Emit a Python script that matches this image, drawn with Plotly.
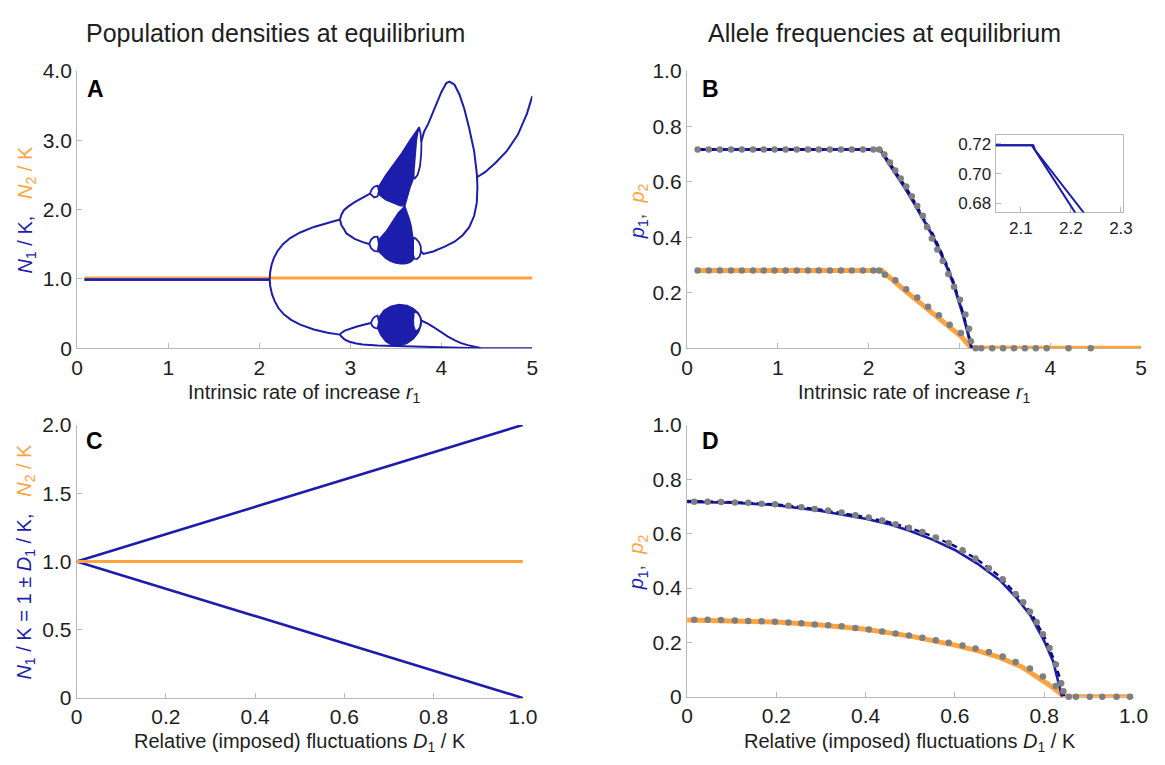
import plotly.graph_objects as go

FONT = "Liberation Sans, Arial, Helvetica, sans-serif"
BLUE = "#1d1dab"
BLUE_D = "#0b0b78"
ORANGE = "#ffa340"
GRAY = "#7f7f7f"
AXC = "#b9b9b9"
TXT = "#1e1e1e"
W, H = 1165, 765

# ---------------- Panel A : N1/K, N2/K vs r1 ----------------
a_eq_r = [0.08, 2.115]
a_eq_n1 = [0.99, 0.99]
a_n2_r = [0.08, 5.0]
a_n2 = [1.013, 1.013]

a_p2hi_r = [2.115, 2.12, 2.135, 2.16, 2.20, 2.26, 2.34, 2.45, 2.60, 2.75, 2.886]
a_p2hi_n = [1.00, 1.10, 1.20, 1.30, 1.40, 1.50, 1.59, 1.67, 1.75, 1.81, 1.857]
a_p2lo_r = [2.115, 2.12, 2.14, 2.17, 2.21, 2.27, 2.35, 2.45, 2.60, 2.75, 2.886]
a_p2lo_n = [1.00, 0.90, 0.78, 0.68, 0.58, 0.49, 0.41, 0.34, 0.27, 0.225, 0.197]

a_p4a_r = [2.886, 2.904, 2.93, 2.976, 3.048, 3.137, 3.217]
a_p4a_n = [1.857, 1.93, 1.99, 2.042, 2.107, 2.168, 2.229]
a_p4b_r = [2.886, 2.904, 2.93, 2.958, 3.048, 3.137, 3.209]
a_p4b_n = [1.857, 1.77, 1.72, 1.656, 1.577, 1.530, 1.504]
a_p4c_r = [2.886, 2.905, 2.94, 2.99, 3.066, 3.137, 3.227]
a_p4c_n = [0.197, 0.225, 0.255, 0.28, 0.31, 0.335, 0.364]
a_p4d_r = [2.886, 2.905, 2.94, 2.99, 3.066, 3.137, 3.30, 3.50, 3.70, 3.90, 4.10, 4.30, 4.45, 5.0]
a_p4d_n = [0.197, 0.165, 0.125, 0.095, 0.07, 0.056, 0.04, 0.03, 0.022, 0.015, 0.01, 0.005, 0.002, 0.002]

a_p8a_r = [3.217, 3.235, 3.263, 3.30, 3.315, 3.30, 3.263, 3.235, 3.217]
a_p8a_n = [2.229, 2.29, 2.33, 2.345, 2.27, 2.19, 2.175, 2.20, 2.229]
a_p8b_r = [3.209, 3.23, 3.263, 3.30, 3.315, 3.30, 3.263, 3.23, 3.209]
a_p8b_n = [1.504, 1.57, 1.605, 1.61, 1.50, 1.395, 1.405, 1.44, 1.504]
a_p8c_r = [3.227, 3.245, 3.27, 3.30, 3.315, 3.30, 3.27, 3.245, 3.227]
a_p8c_n = [0.364, 0.42, 0.455, 0.47, 0.375, 0.285, 0.295, 0.315, 0.364]

a_ch1_r = [3.306, 3.317, 3.389, 3.479, 3.569, 3.659, 3.72, 3.749, 3.756, 3.74, 3.725,
           3.71, 3.70, 3.695, 3.66, 3.625, 3.60, 3.55, 3.48, 3.39, 3.325, 3.306]
a_ch1_n = [2.287, 2.342, 2.496, 2.659, 2.822, 3.008, 3.134, 3.18, 3.189, 3.12, 3.00,
           2.80, 2.60, 2.45, 2.33, 2.17, 2.05, 2.054, 2.086, 2.138, 2.203, 2.287]
a_ch2_r = [3.60, 3.625, 3.65, 3.67, 3.685, 3.69, 3.688, 3.69, 3.70, 3.685, 3.65, 3.60,
           3.55, 3.49, 3.44, 3.39, 3.35, 3.315, 3.305, 3.32, 3.39, 3.46, 3.53, 3.60]
a_ch2_n = [2.05, 1.96, 1.86, 1.76, 1.66, 1.58, 1.50, 1.40, 1.31, 1.265, 1.235, 1.215,
           1.215, 1.23, 1.255, 1.295, 1.34, 1.39, 1.50, 1.58, 1.68, 1.82, 1.96, 2.05]
a_ch3_r = [3.299, 3.325, 3.371, 3.443, 3.533, 3.623, 3.695, 3.749, 3.778, 3.778, 3.749,
           3.695, 3.623, 3.533, 3.461, 3.389, 3.335, 3.306, 3.299]
a_ch3_n = [0.353, 0.47, 0.549, 0.605, 0.632, 0.618, 0.572, 0.507, 0.423, 0.33, 0.228,
           0.135, 0.069, 0.032, 0.041, 0.097, 0.19, 0.274, 0.353]

a_lens1_r = [3.756, 3.772, 3.782, 3.778, 3.765, 3.74, 3.71, 3.695, 3.70, 3.71, 3.725, 3.74, 3.756]
a_lens1_n = [3.19, 3.10, 2.95, 2.78, 2.62, 2.50, 2.45, 2.47, 2.60, 2.80, 3.00, 3.12, 3.19]
a_lens2_r = [3.695, 3.72, 3.755, 3.775, 3.775, 3.76, 3.73, 3.705, 3.69, 3.688, 3.69, 3.695]
a_lens2_n = [1.60, 1.58, 1.53, 1.46, 1.38, 1.32, 1.285, 1.29, 1.35, 1.45, 1.53, 1.60]
a_lens3_r = [3.70, 3.74, 3.77, 3.778, 3.765, 3.735, 3.71, 3.695, 3.69, 3.693, 3.70]
a_lens3_n = [0.53, 0.51, 0.45, 0.38, 0.30, 0.25, 0.26, 0.32, 0.40, 0.48, 0.53]

a_loop_r = [3.78, 3.81, 3.857, 3.93, 4.0, 4.055, 4.091, 4.145, 4.199, 4.253, 4.307, 4.361,
            4.39, 4.397, 4.39, 4.361, 4.307, 4.235, 4.145, 4.037, 3.911, 3.803, 3.775]
a_loop_n = [2.98, 3.12, 3.24, 3.474, 3.693, 3.824, 3.846, 3.80, 3.66, 3.45, 3.17, 2.84,
            2.52, 2.33, 2.10, 1.91, 1.746, 1.63, 1.536, 1.466, 1.396, 1.36, 1.40]
a_tail_r = [4.397, 4.48, 4.60, 4.72, 4.84, 4.94, 5.0]
a_tail_n = [2.47, 2.54, 2.68, 2.845, 3.077, 3.38, 3.636]
a_desc_r = [3.778, 3.82, 3.857, 3.91, 3.965, 4.02, 4.073, 4.15, 4.217, 4.29, 4.36, 4.43]
a_desc_n = [0.40, 0.38, 0.353, 0.31, 0.26, 0.21, 0.167, 0.115, 0.074, 0.045, 0.02, 0.005]

# ---------------- Panel B : p1, p2 vs r1 ----------------
b_p1_r = [0.12, 2.125, 2.20, 2.286, 2.40, 2.503, 2.60, 2.70, 2.78, 2.863, 2.93, 2.99, 3.04, 3.09, 3.133]
b_p1_p = [0.717, 0.717, 0.677, 0.635, 0.578, 0.522, 0.467, 0.408, 0.353, 0.292, 0.235, 0.175, 0.12, 0.058, 0.0]
b_p1s_r = [0.12, 2.13, 2.22, 2.30, 2.415, 2.515, 2.612, 2.712, 2.79, 2.872, 2.938, 2.997, 3.045, 3.093, 3.135]
b_p1s_p = [0.717, 0.717, 0.674, 0.635, 0.578, 0.522, 0.467, 0.408, 0.353, 0.292, 0.235, 0.175, 0.12, 0.058, 0.0]
b_p2_r = [0.12, 2.143, 2.41, 2.77, 3.02, 3.133, 5.0]
b_p2_p = [0.28, 0.28, 0.205, 0.108, 0.042, 0.0, 0.0]

b_dot_flat_r = [0.117, 0.240, 0.362, 0.485, 0.604, 0.726, 0.845, 0.964, 1.086, 1.209,
                1.332, 1.451, 1.573, 1.695, 1.814, 1.937, 2.052, 2.117]
b_dot1_flat_p = [0.717] * 18
b_dot2_flat_p = [0.28] * 18
b_dot1_r = [2.173, 2.234, 2.293, 2.353, 2.414, 2.475, 2.535, 2.596, 2.643, 2.696, 2.756,
            2.816, 2.877, 2.94, 3.005, 3.065, 3.105, 3.125]
b_dot1_p = [0.699, 0.670, 0.641, 0.612, 0.583, 0.548, 0.513, 0.478, 0.437, 0.396, 0.356,
            0.315, 0.268, 0.222, 0.175, 0.122, 0.07, 0.025]
b_dot2_r = [2.178, 2.294, 2.413, 2.535, 2.654, 2.773, 2.892, 3.015]
b_dot2_p = [0.265, 0.245, 0.213, 0.183, 0.15, 0.119, 0.085, 0.055]
b_dot0_r = [3.178, 3.239, 3.36, 3.48, 3.60, 3.72, 3.84, 3.96, 4.20, 4.445]
b_dot0_p = [0.0] * 10

# inset of panel B
i_l1_r = [2.04, 2.122, 2.215]
i_l1_p = [0.719, 0.719, 0.6705]
i_l2_r = [2.04, 2.125, 2.128, 2.235]
i_l2_p = [0.719, 0.719, 0.716, 0.6698]

# ---------------- Panel C : N/K vs D1/K ----------------
c_d = [0.0, 1.0]
c_up = [1.0, 2.0]
c_lo = [1.0, 0.0]
c_n2 = [1.0, 1.0]

# ---------------- Panel D : p1, p2 vs D1/K ----------------
d_p1a_d = [0, 0.1, 0.2, 0.3, 0.4, 0.45, 0.5, 0.55, 0.6, 0.65, 0.7, 0.74, 0.77, 0.80, 0.82, 0.835, 0.845]
d_p1a_p = [0.72, 0.716, 0.708, 0.688, 0.661, 0.643, 0.62, 0.591, 0.554, 0.505, 0.443, 0.372, 0.31, 0.222, 0.145, 0.07, 0.0]
d_p1b_d = [0, 0.1, 0.2, 0.3, 0.4, 0.45, 0.5, 0.55, 0.6, 0.65, 0.7, 0.74, 0.77, 0.80, 0.82, 0.83, 0.84]
d_p1b_p = [0.717, 0.714, 0.705, 0.683, 0.655, 0.636, 0.61, 0.578, 0.54, 0.49, 0.43, 0.36, 0.297, 0.205, 0.13, 0.07, 0.0]
d_p2_d = [0, 0.1, 0.2, 0.3, 0.4, 0.5, 0.55, 0.6, 0.65, 0.7, 0.75, 0.78, 0.81, 0.83, 0.845, 1.0]
d_p2_p = [0.282, 0.28, 0.275, 0.264, 0.248, 0.223, 0.208, 0.19, 0.17, 0.145, 0.11, 0.08, 0.045, 0.02, 0.0, 0.0]

d_dot1_d = [0.016, 0.046, 0.076, 0.107, 0.137, 0.167, 0.197, 0.227, 0.256, 0.286, 0.316,
            0.346, 0.377, 0.407, 0.437, 0.467, 0.497, 0.527, 0.557, 0.586, 0.617, 0.646,
            0.676, 0.707, 0.736, 0.753, 0.768, 0.783, 0.797, 0.812, 0.826, 0.838, 0.843]
d_dot1_p = [0.717, 0.717, 0.716, 0.715, 0.714, 0.71, 0.708, 0.703, 0.697, 0.691, 0.685,
            0.678, 0.668, 0.659, 0.648, 0.635, 0.622, 0.606, 0.586, 0.566, 0.539, 0.509,
            0.473, 0.432, 0.378, 0.348, 0.313, 0.274, 0.23, 0.179, 0.119, 0.05, 0.02]
d_dot2_d = [0.016, 0.046, 0.076, 0.107, 0.137, 0.167, 0.197, 0.227, 0.256, 0.286, 0.316,
            0.346, 0.377, 0.407, 0.437, 0.467, 0.497, 0.527, 0.557, 0.586, 0.617, 0.646,
            0.676, 0.707, 0.736, 0.768, 0.797, 0.826]
d_dot2_p = [0.283, 0.283, 0.282, 0.281, 0.279, 0.278, 0.276, 0.273, 0.270, 0.266, 0.263,
            0.259, 0.253, 0.247, 0.24, 0.233, 0.225, 0.217, 0.208, 0.199, 0.189, 0.178,
            0.165, 0.148, 0.128, 0.104, 0.075, 0.04]
d_dot0_d = [0.855, 0.871, 0.902, 0.93, 0.962, 0.992]
d_dot0_p = [0.0] * 6

# ---------------- ticks ----------------
a_xt = [0, 1, 2, 3, 4, 5]
a_xl = ["0", "1", "2", "3", "4", "5"]
a_yt = [0, 1, 2, 3, 4]
a_yl = ["0", "1.0", "2.0", "3.0", "4.0"]
p_yt = [0, 0.2, 0.4, 0.6, 0.8, 1.0]
p_yl = ["0", "0.2", "0.4", "0.6", "0.8", "1.0"]
c_xt = [0, 0.2, 0.4, 0.6, 0.8, 1.0]
c_xl = ["0", "0.2", "0.4", "0.6", "0.8", "1.0"]
c_yt = [0, 0.5, 1.0, 1.5, 2.0]
c_yl = ["0", "0.5", "1.0", "1.5", "2.0"]
i_xt = [2.1, 2.2, 2.3]
i_xl = ["2.1", "2.2", "2.3"]
i_yt = [0.68, 0.70, 0.72]
i_yl = ["0.68", "0.70", "0.72"]

fig = go.Figure()


def add(x, y, ax, color, width, dash=None, fill=None, fillcolor=None):
    fig.add_trace(go.Scatter(
        x=x, y=y, xaxis="x" + ax, yaxis="y" + ax, mode="lines",
        line=dict(color=color, width=width, dash=dash),
        fill=fill, fillcolor=fillcolor, hoverinfo="skip", showlegend=False))


def dots(x, y, ax):
    fig.add_trace(go.Scatter(
        x=x, y=y, xaxis="x" + ax, yaxis="y" + ax, mode="markers",
        marker=dict(color=GRAY, size=6.5, line=dict(width=0)),
        hoverinfo="skip", showlegend=False, cliponaxis=False))


# Panel A
add(a_n2_r, a_n2, "", ORANGE, 3)
add(a_eq_r, a_eq_n1, "", BLUE, 2.2)
for xs, ys in [(a_ch1_r, a_ch1_n), (a_ch2_r, a_ch2_n), (a_ch3_r, a_ch3_n)]:
    add(xs, ys, "", BLUE, 1.2, fill="toself", fillcolor=BLUE)
for xs, ys in [(a_lens1_r, a_lens1_n), (a_lens2_r, a_lens2_n), (a_lens3_r, a_lens3_n),
               (a_p8a_r, a_p8a_n), (a_p8b_r, a_p8b_n), (a_p8c_r, a_p8c_n)]:
    add(xs, ys, "", BLUE, 1.8, fill="toself", fillcolor="white")
for xs, ys in [(a_p2hi_r, a_p2hi_n), (a_p2lo_r, a_p2lo_n), (a_p4a_r, a_p4a_n),
               (a_p4b_r, a_p4b_n), (a_p4c_r, a_p4c_n), (a_p4d_r, a_p4d_n),
               (a_loop_r, a_loop_n), (a_tail_r, a_tail_n), (a_desc_r, a_desc_n)]:
    add(xs, ys, "", BLUE, 2)
add(a_eq_r, a_eq_n1, "", BLUE, 2.2)

# Panel B
add(b_p2_r, b_p2_p, "2", ORANGE, 5)
add(b_p1_r, b_p1_p, "2", BLUE, 3)
add(b_p1s_r, b_p1s_p, "2", BLUE_D, 2.4, dash="6px,4px")
dots(b_dot_flat_r, b_dot1_flat_p, "2")
dots(b_dot_flat_r, b_dot2_flat_p, "2")
dots(b_dot1_r, b_dot1_p, "2")
dots(b_dot2_r, b_dot2_p, "2")
dots(b_dot0_r, b_dot0_p, "2")

# Inset
add(i_l1_r, i_l1_p, "5", BLUE, 2)
add(i_l2_r, i_l2_p, "5", BLUE, 2)

# Panel C
add(c_d, c_up, "3", BLUE, 2.6)
add(c_d, c_lo, "3", BLUE, 2.6)
add(c_d, c_n2, "3", ORANGE, 3)

# Panel D
add(d_p2_d, d_p2_p, "4", ORANGE, 5)
add(d_p1b_d, d_p1b_p, "4", BLUE, 2.6)
add(d_p1a_d, d_p1a_p, "4", BLUE_D, 2.4, dash="6px,4px")
dots(d_dot1_d, d_dot1_p, "4")
dots(d_dot2_d, d_dot2_p, "4")
dots(d_dot0_d, d_dot0_p, "4")


def px(v):
    return v / W


def py(v):
    return 1 - v / H


def axis(dom, rng, vals, texts, anchor, size=21, mirror=False):
    return dict(domain=dom, range=rng, tickmode="array", tickvals=vals, ticktext=texts,
                showline=True, linecolor=AXC, linewidth=1.3, mirror=mirror,
                ticks="inside", ticklen=5, tickwidth=1, tickcolor=AXC,
                showgrid=False, zeroline=False, anchor=anchor,
                tickfont=dict(family=FONT, size=size, color=TXT),
                layer="below traces", fixedrange=True)


fig.update_layout(
    width=W, height=H, margin=dict(l=0, r=0, t=0, b=0),
    paper_bgcolor="white", plot_bgcolor="white", showlegend=False,
    font=dict(family=FONT, size=20, color=TXT),
    xaxis=axis([px(72.5), px(536)], [0, 5], a_xt, a_xl, "y"),
    yaxis=axis([py(346.7), py(60.7)], [0, 4], a_yt, a_yl, "x"),
    xaxis2=axis([px(693.5), px(1156)], [0, 5], a_xt, a_xl, "y2"),
    yaxis2=axis([py(346.7), py(60.7)], [0, 1], p_yt, p_yl, "x2"),
    xaxis3=axis([px(72), px(526.4)], [0, 1], c_xt, c_xl, "y3"),
    yaxis3=axis([py(707.3), py(425.7)], [0, 2], c_yt, c_yl, "x3"),
    xaxis4=axis([px(693.6), px(1148.2)], [0, 1], c_xt, c_xl, "y4"),
    yaxis4=axis([py(706), py(425.7)], [0, 1], p_yt, p_yl, "x4"),
    xaxis5=axis([px(1008), px(1138)], [2.05, 2.305], i_xt, i_xl, "y5", size=17, mirror=True),
    yaxis5=axis([py(206.7), py(126.7)], [0.674, 0.726], i_yt, i_yl, "x5", size=17, mirror=True),
)

ann = []


def text(t, x, y, size=20, angle=0, bold=False, color=TXT):
    ann.append(dict(text=("<b>%s</b>" % t) if bold else t, x=px(x), y=py(y),
                    xref="paper", yref="paper", showarrow=False, textangle=angle,
                    xanchor="center", yanchor="middle",
                    font=dict(family=FONT, size=size, color=color)))


text("Population densities at equilibrium", 274.6, 22, size=25)
text("Allele frequencies at equilibrium", 895, 22, size=25)
text("Intrinsic rate of increase <i>r</i><sub>1</sub>", 304, 393)
text("Intrinsic rate of increase <i>r</i><sub>1</sub>", 925, 393)
text("Relative (imposed) fluctuations <i>D</i><sub>1</sub> / K", 299.5, 753)
text("Relative (imposed) fluctuations <i>D</i><sub>1</sub> / K", 921, 753)
sp = "&nbsp;&nbsp;&nbsp;"
text('<span style="color:%s"><i>N</i><sub>1</sub> / K,</span>%s<span style="color:%s"><i>N</i><sub>2</sub> / K</span>'
     % (BLUE, sp, ORANGE), 21, 204, angle=-90)
text('<span style="color:%s"><i>N</i><sub>1</sub> / K = 1 ± <i>D</i><sub>1</sub> / K,</span>%s<span style="color:%s"><i>N</i><sub>2</sub> / K</span>'
     % (BLUE, sp, ORANGE), 20, 567, angle=-90)
for yy in (205, 567):
    text('<span style="color:%s"><i>p</i><sub>1</sub></span><span style="color:#555">,</span>%s<span style="color:%s"><i>p</i><sub>2</sub></span>'
         % (BLUE, "&nbsp;&nbsp;", ORANGE), 644, yy, angle=-90)
text("A", 91, 79, size=23, bold=True, color="#000")
text("B", 717, 79, size=23, bold=True, color="#000")
text("C", 90, 442, size=23, bold=True, color="#000")
text("D", 717, 442, size=23, bold=True, color="#000")
fig.update_layout(annotations=ann)

fig.write_html("out.html", config={"displayModeBar": False},
               post_script="document.body.style.margin='0';document.body.style.overflow='hidden';")
